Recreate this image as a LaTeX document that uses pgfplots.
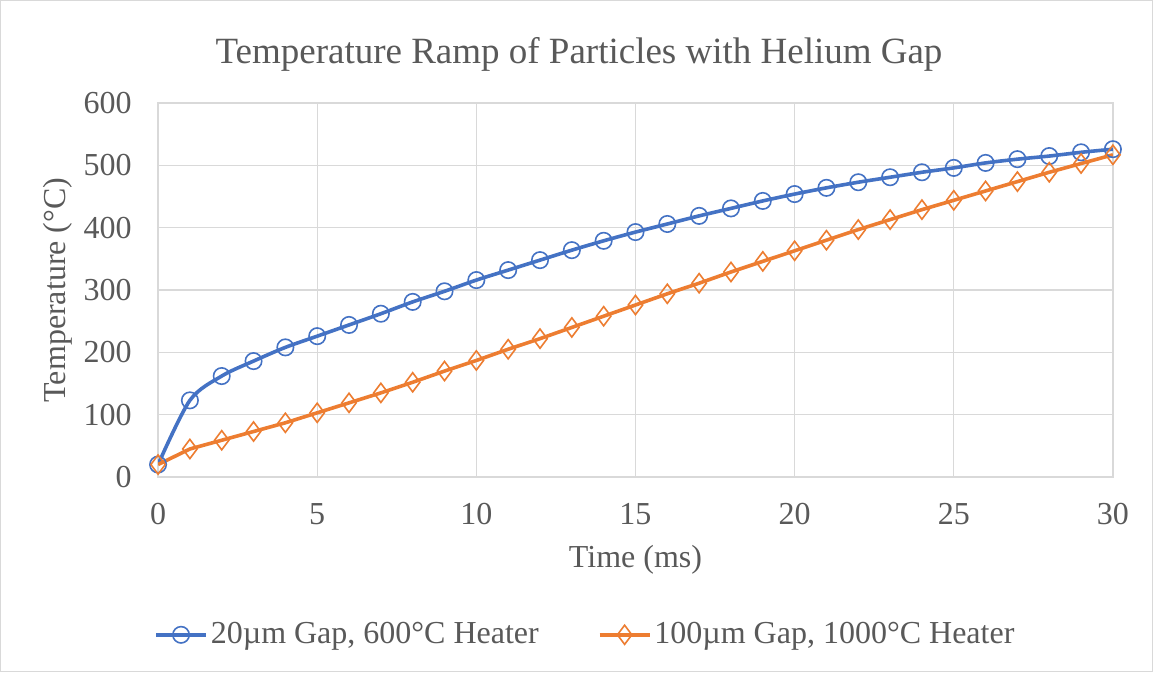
\documentclass[border=0pt]{standalone}
\usepackage{pgfplots}
\pgfplotsset{compat=1.18}
\usepackage{fontspec}
\setmainfont{Liberation Serif}
\definecolor{cblue}{RGB}{68,114,196}
\definecolor{corange}{RGB}{237,125,49}
\definecolor{ctext}{RGB}{89,89,89}
\definecolor{cgrid}{RGB}{217,217,217}
\begin{document}
\begin{tikzpicture}
\draw[draw=cgrid, line width=0.6pt, fill=white] (-78.75pt,-97.25pt) rectangle (497.25pt,238.25pt);
\begin{axis}[
  at={(0pt,0pt)}, anchor=south west,
  scale only axis, width=477.5pt, height=187pt,
  xmin=0, xmax=30, ymin=0, ymax=600,
  xtick={0,5,...,30}, ytick={0,100,...,600},
  grid=major, major grid style={draw=cgrid, line width=0.7pt},
  axis line style={draw=cgrid, line width=0.7pt},
  tick style={draw=none},
  /pgf/number format/assume math mode=true,
  ticklabel style={font=\fontsize{16}{18}\selectfont, text=ctext, inner sep=0pt},
  xticklabel style={anchor=center, yshift=-18.5pt},
  yticklabel style={anchor=east, xshift=-13pt},
  xlabel={Time (ms)}, ylabel={Temperature (°C)},
  label style={font=\fontsize{16}{18}\selectfont, text=ctext},
  xlabel style={at={(axis description cs:0.5,-0.222)}, anchor=center},
  ylabel style={at={(axis description cs:-0.105,0.5)}, anchor=center, rotate=0},
  legend columns=2,
  legend style={at={(0.448,-0.422)}, anchor=center, draw=none, fill=none,
    font=\fontsize{16}{18}\selectfont, text=ctext,
    nodes={inner sep=1.5pt},
    /tikz/every even column/.append style={column sep=28pt}},
  legend cell align=left,
  legend image code/.code={\draw[mark repeat=2,mark phase=2] plot coordinates {(0pt,0pt) (12.5pt,0pt) (25pt,0pt)};},
]
\addplot[cblue, line width=1.8pt, smooth, tension=0.5, mark=o, mark size=4.1pt,
  mark options={line width=0.8pt, fill=none, solid}] coordinates {
(0,20) (1,123) (2,162) (3,186) (4,208) (5,226) (6,244) (7,262) (8,281) (9,298)
(10,316) (11,332) (12,348) (13,364) (14,379) (15,393) (16,406) (17,419) (18,431)
(19,443) (20,454) (21,464) (22,473) (23,481) (24,489) (25,496) (26,504) (27,510)
(28,515) (29,521) (30,526)};
\addlegendentry{20µm Gap, 600°C Heater}
\addplot[corange, line width=1.8pt, mark=diamond, mark size=4.8pt,
  mark options={line width=0.8pt, fill=none, solid}] coordinates {
(0,20) (1,45) (2,59) (3,73) (4,87) (5,103) (6,119) (7,135) (8,152) (9,170)
(10,187) (11,205) (12,222) (13,240) (14,258) (15,276) (16,294) (17,311) (18,329)
(19,346) (20,363) (21,380) (22,397) (23,413) (24,429) (25,444) (26,459) (27,474)
(28,489) (29,503) (30,517)};
\addlegendentry{100µm Gap, 1000°C Heater}
\end{axis}
\node[text=ctext, font=\fontsize{18.5}{21}\selectfont] at (210.5pt,211.5pt) {Temperature Ramp of Particles with Helium Gap};
\end{tikzpicture}
\end{document}
